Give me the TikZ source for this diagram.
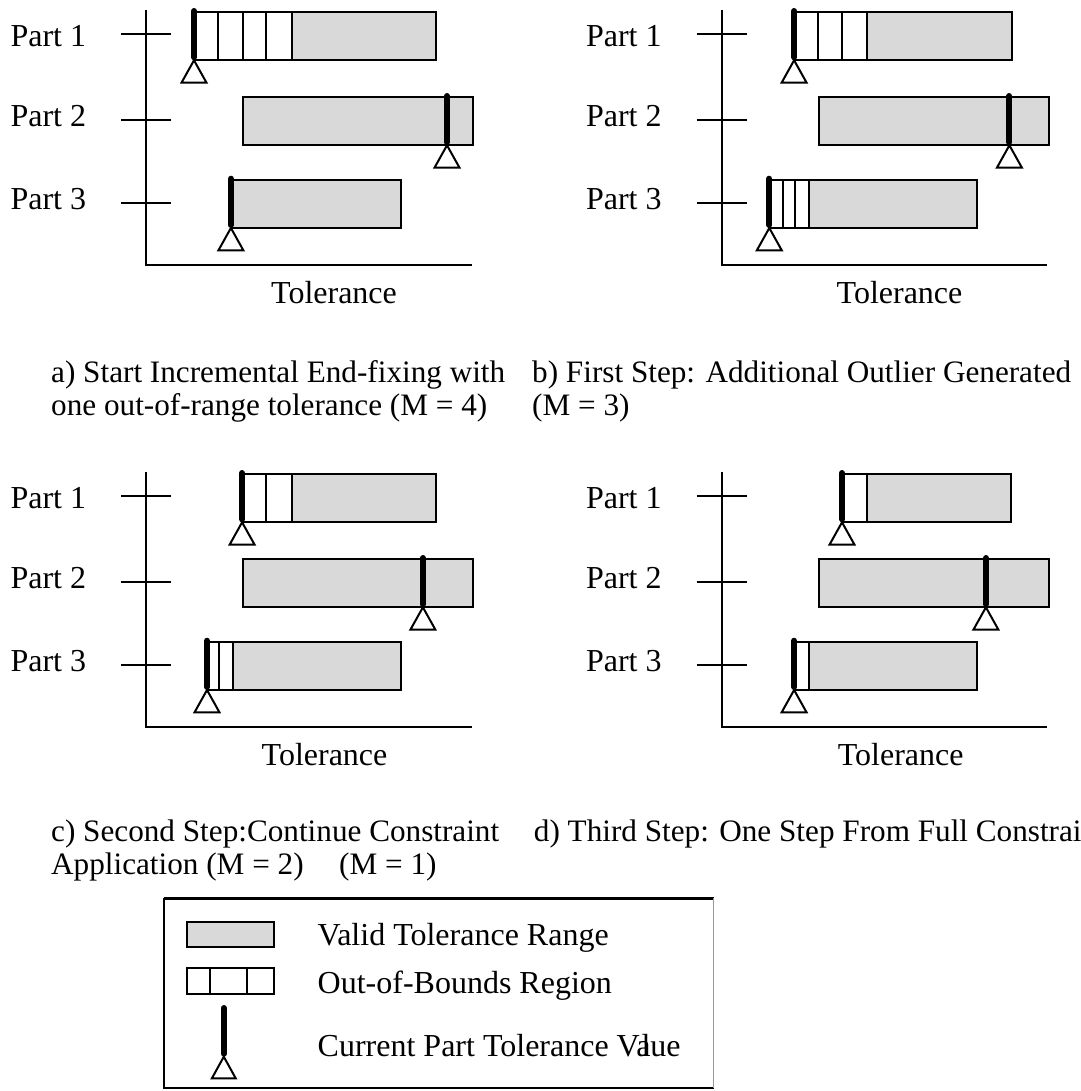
\documentclass[tikz,border=0pt]{standalone}
\usepackage{fontspec}
\setmainfont{Liberation Serif}
\definecolor{barfill}{HTML}{D9D9D9}
\tikzset{
  ln/.style={line width=2pt},
  axisln/.style={line width=2pt, line join=miter},
  mk/.style={line width=6pt, line cap=round},
  tri/.style={draw, fill=white, line width=2pt, line join=miter},
  txt/.style={inner sep=0pt, font=\fontsize{32}{38}\selectfont},
  lbl/.style={txt, anchor=base west},
  captxt/.style={lbl, font=\fontsize{31.2}{37}\selectfont},
}
% #1 ytop, #2 white start, #3 gray start, #4 right, #5 dividers, #6 marker x
\newcommand{\tolbar}[6]{%
  \fill[white] (#2,#1) rectangle (#3,#1+48);
  \filldraw[fill=barfill, ln] (#3,#1) rectangle (#4,#1+48);
  \draw[ln] (#2,#1) rectangle (#3,#1+48);
  \foreach \d in {#5} {\draw[ln] (\d,#1) -- (\d,#1+48);}
  \draw[mk] (#6,#1-1.3) -- (#6,#1+45);
  \draw[tri] (#6,#1+48) -- ++(-12.5,22.4) -- ++(25,0) -- cycle;
}
% #1 prefix, #2 tolerance centre x
\newcommand{\panelframe}[2]{%
  \draw[axisln] (146.3,10) -- (146.3,265) -- (471.8,265);
  \draw[ln] (121.2,34.3) -- (171.1,34.3);
  \draw[ln] (121.2,120) -- (171.1,120);
  \draw[ln] (121.2,202.7) -- (171.1,202.7);
  \node[lbl] (#1p1) at (10.3,46.7) {Part 1};
  \node[lbl] (#1p2) at (10.3,126.7) {Part 2};
  \node[lbl] (#1p3) at (10.3,209.3) {Part 3};
  \node[txt, anchor=base] (#1tol) at (#2,303) {Tolerance};
}
\begin{document}
\begin{tikzpicture}[x=1pt,y=-1pt]
\useasboundingbox (0,0) rectangle (1080,1091);

% ---------- panel a ----------
\begin{scope}
  \panelframe{a}{334}
  \tolbar{12.3}{194}{292}{435.6}{218,242.8,266.2}{194}
  \tolbar{97.3}{243.1}{243.1}{472.8}{243.1}{447}
  \tolbar{180}{231.4}{231.4}{400.5}{231.4}{230.9}
\end{scope}

% ---------- panel b ----------
\begin{scope}[shift={(575.5,0)}]
  \panelframe{b}{324}
  \tolbar{12.3}{218.6}{291.6}{436.3}{242,266.8}{218.6}
  \tolbar{97.3}{243.4}{243.4}{473.5}{243.4}{433.9}
  \tolbar{180}{193.8}{233.8}{401.8}{207.6,219.3}{193.8}
\end{scope}

% ---------- panel c ----------
\begin{scope}[shift={(0,462)}]
  \panelframe{c}{324.5}
  \tolbar{12.3}{242.1}{292}{435.6}{266.2}{242.1}
  \tolbar{97.3}{243.1}{243.1}{472.8}{243.1}{422.9}
  \tolbar{180}{207}{233.1}{400.5}{218.7}{207}
\end{scope}

% ---------- panel d ----------
\begin{scope}[shift={(575.5,462)}]
  \panelframe{d}{325.2}
  \tolbar{12.3}{266.5}{291.6}{435.6}{291.6}{266.5}
  \tolbar{97.3}{243.4}{243.4}{473.5}{243.4}{410.4}
  \tolbar{180}{218.6}{233.1}{401.1}{233.1}{218.6}
\end{scope}

% ---------- captions ----------
\node[captxt] (capa1) at (51,382) {a) Start Incremental End-fixing with};
\node[captxt] (capa2) at (51,415) {one out-of-range tolerance (M = 4)};
\node[captxt] (capb1) at (532,382) {b) First Step: Additional Outlier Generated};
\node[captxt] (capb2) at (532,415) {(M = 3)};
\node[captxt] (capc1) at (51,841) {c) Second Step:Continue Constraint};
\node[captxt] (capc2) at (51,874) {Application (M = 2)};
\node[captxt] (capd2) at (339,874) {(M = 1)};
\begin{scope}
  \clip (0,0) rectangle (1080,1091);
  \node[captxt] (capd1) at (533.7,841) {d) Third Step: One Step From Full Constraint};
\end{scope}

% ---------- legend ----------
\coordinate (lgNW) at (163.7,898.3);
\coordinate (lgNE) at (713.6,898.3);
\coordinate (lgSW) at (163.7,1088.3);
\coordinate (lgSE) at (713.6,1088.3);
\draw[line width=3pt] (lgNW) -- (lgNE);
\draw[line width=2pt] (lgNW) -- (lgSW) -- (lgSE);
\draw[line width=1pt, black!40] (lgNE) -- (lgSE);

\filldraw[fill=barfill, ln] (186.6,921.7) rectangle (273.5,946.7);
\draw[ln] (186.6,968.3) rectangle (273.5,994.3);
\draw[ln] (210.4,968.3) -- (210.4,994.3);
\draw[ln] (246.7,968.3) -- (246.7,994.3);
\draw[mk] (223.8,1008) -- (223.8,1053.7);
\draw[tri] (223.8,1056.7) -- ++(-11.9,21.6) -- ++(23.8,0) -- cycle;

\node[lbl] (lg1) at (317.5,945) {Valid Tolerance Range};
\node[lbl] (lg2) at (317.5,993.3) {Out-of-Bounds Region};
\node[lbl] (lg3) at (317.5,1056.7) {Current Part Tolerance Va\kern-0.28em lue};
\end{tikzpicture}
\end{document}
